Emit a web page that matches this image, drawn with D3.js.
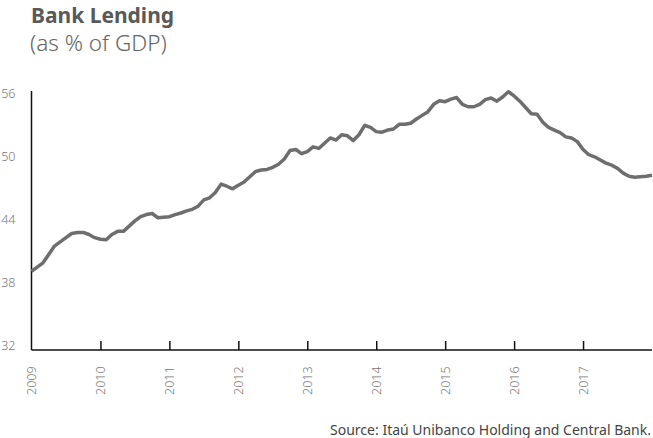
<!DOCTYPE html>
<html>
<head>
<meta charset="utf-8">
<script src="https://cdn.jsdelivr.net/npm/d3@7"></script>
<style>
  html, body { margin: 0; padding: 0; background: #fff; }
  svg { display: block; }
</style>
</head>
<body>
<svg id="chart" width="653" height="438"></svg>
<script>
// Monthly bank lending (% of GDP), Jan 2009 .. Jan 2018
const startYear = 2009;
const lendingValues = [
  39.5, 39.9, 40.3, 41.1, 41.9, 42.3, 42.7, 43.1, 43.2, 43.2, 43.0, 42.7,
  42.55, 42.5, 43.0, 43.3, 43.3, 43.8, 44.3, 44.7, 44.9, 45.0, 44.6, 44.65,
  44.7, 44.9, 45.05, 45.25, 45.4, 45.7, 46.3, 46.5, 47.0, 47.8, 47.6, 47.35,
  47.7, 48.0, 48.5, 49.0, 49.15, 49.2, 49.4, 49.7, 50.2, 51.0, 51.1, 50.7,
  50.9, 51.35, 51.2, 51.7, 52.2, 52.0, 52.5, 52.4, 51.95, 52.5, 53.4, 53.2,
  52.8, 52.75, 52.95, 53.05, 53.5, 53.5, 53.6, 54.0, 54.35, 54.7, 55.4, 55.75,
  55.65, 55.9, 56.05, 55.4, 55.17, 55.17, 55.4, 55.85, 56.0, 55.7, 56.1, 56.6,
  56.2, 55.7, 55.1, 54.5, 54.45, 53.7, 53.2, 52.95, 52.7, 52.3, 52.2, 51.85,
  51.1, 50.6, 50.4, 50.1, 49.8, 49.6, 49.3, 48.85, 48.55, 48.45, 48.5, 48.55,
  48.65
];
const yearTicks = [2009, 2010, 2011, 2012, 2013, 2014, 2015, 2016, 2017];
const valueTicks = [32, 38, 44, 50, 56];
const titleText = "Bank Lending";
const subtitleText = "(as % of GDP)";
const sourceText = "Source: Itaú Unibanco Holding and Central Bank.";

const svg = d3.select("#chart");
const mLeft = 31.5, mRight = 652, mBottom = 350, mTop = 91;

const x = d3.scaleLinear().domain([startYear, startYear + 9]).range([mLeft, mRight]);
const y = d3.scaleLinear().domain([32, 56.67]).range([mBottom, mTop]);

const data = lendingValues.map((v, i) => ({ t: startYear + i / 12, v }));

// Title
svg.append("text").attr("x", 31).attr("y", 22.5)
  .attr("font-family", "'Noto Sans', sans-serif").attr("font-weight", 700)
  .attr("font-size", 21).attr("fill", "#595959").text(titleText);
svg.append("text").attr("x", 30).attr("y", 51)
  .attr("font-family", "'Noto Sans', sans-serif").attr("font-weight", 300)
  .attr("font-size", 22.5).attr("fill", "#666").text(subtitleText);

// Y axis (labels only, plus line)
const yAxis = d3.axisLeft(y).tickValues(valueTicks).tickSize(0).tickPadding(0);
const gy = svg.append("g").attr("transform", `translate(${mLeft},0)`).call(yAxis);
gy.select(".domain").remove();
gy.selectAll(".tick text")
  .attr("x", -16).attr("dy", "-0.05em")
  .attr("font-family", "'Noto Sans', sans-serif").attr("font-weight", 300)
  .attr("font-size", 12.5).attr("fill", "#777");
svg.append("line").attr("x1", mLeft).attr("x2", mLeft).attr("y1", mTop).attr("y2", mBottom)
  .attr("stroke", "#111").attr("stroke-width", 1.5);

// X axis: inward ticks and rotated labels
const xAxis = d3.axisBottom(x).tickValues(yearTicks).tickFormat(d3.format("d")).tickSize(0);
const gx = svg.append("g").attr("transform", `translate(0,${mBottom})`).call(xAxis);
gx.select(".domain").remove();
gx.selectAll(".tick line").remove();
gx.selectAll(".tick")
  .filter(d => d !== startYear)
  .append("line").attr("y1", 0).attr("y2", -9).attr("stroke", "#111").attr("stroke-width", 1.5);
gx.selectAll(".tick text")
  .attr("transform", "rotate(-90)")
  .attr("x", -45).attr("y", 0).attr("dy", "0.35em")
  .attr("text-anchor", "start")
  .attr("font-family", "'Noto Sans', sans-serif").attr("font-weight", 300)
  .attr("font-size", 12.5).attr("fill", "#777");
svg.append("line").attr("x1", mLeft).attr("x2", mRight).attr("y1", mBottom).attr("y2", mBottom)
  .attr("stroke", "#111").attr("stroke-width", 1.5);

// Line
const line = d3.line().x(d => x(d.t)).y(d => y(d.v));
svg.append("path").datum(data).attr("d", line)
  .attr("fill", "none").attr("stroke", "#6e6e6e").attr("stroke-width", 3.5)
  .attr("stroke-linejoin", "round");

// Source
svg.append("text").attr("x", 651).attr("y", 434.5).attr("text-anchor", "end")
  .attr("font-family", "'Noto Sans', sans-serif").attr("font-size", 14)
  .attr("fill", "#444").text(sourceText);
</script>
</body>
</html>
